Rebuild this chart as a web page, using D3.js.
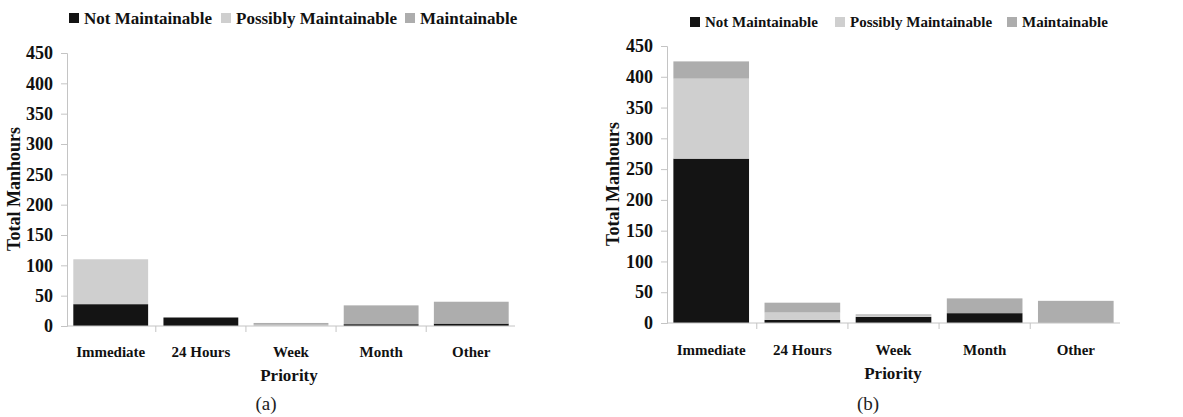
<!DOCTYPE html>
<html>
<head>
<meta charset="utf-8">
<script src="https://cdn.jsdelivr.net/npm/d3@7"></script>
<style>
  html, body { margin: 0; padding: 0; background: #ffffff; }
  svg text { font-family: "Liberation Serif", "Times New Roman", serif; }
</style>
</head>
<body>
<svg id="chart" width="1183" height="417"></svg>
<script>
// Priority categories shared by both panels
const categories = ["Immediate", "24 Hours", "Week", "Month", "Other"];
const seriesNames = ["Not Maintainable", "Possibly Maintainable", "Maintainable"];
const seriesColors = ["#141414", "#cfcfcf", "#adadad"];
const yTicks = [0, 50, 100, 150, 200, 250, 300, 350, 400, 450];

// Panel (a) total manhours per category
const notMaintainableA = [36, 14, 0, 3, 4];
const possiblyMaintainableA = [74, 0, 2, 0, 0];
const maintainableA = [0, 0, 3, 31, 36];

// Panel (b) total manhours per category
const notMaintainableB = [267, 5, 10, 16, 0];
const possiblyMaintainableB = [130, 12, 2, 0, 0];
const maintainableB = [28, 16, 2, 24, 36];

const svg = d3.select("#chart");

function drawPanel(cfg) {
  const rows = categories.map((c, i) => ({
    category: c,
    "Not Maintainable": cfg.series[0][i],
    "Possibly Maintainable": cfg.series[1][i],
    "Maintainable": cfg.series[2][i]
  }));
  const stacked = d3.stack().keys(seriesNames)(rows);

  const x = d3.scaleBand().domain(categories)
    .range([cfg.x0, cfg.x1]).paddingInner(0.17).paddingOuter(0.07);
  const y = d3.scaleLinear().domain([0, 450]).range([cfg.yBase, cfg.yTop]);

  const g = svg.append("g");

  // y axis
  const yAxis = d3.axisLeft(y).tickValues(yTicks).tickSize(6).tickPadding(8);
  const ya = g.append("g").attr("transform", `translate(${cfg.x0},0)`).call(yAxis);
  ya.select(".domain").attr("stroke", "#c4c4c4");
  ya.selectAll(".tick line").attr("stroke", "#c4c4c4");
  ya.selectAll(".tick text")
    .attr("font-size", 18).attr("font-weight", "bold").attr("fill", "#111")
    .attr("font-family", "Liberation Serif");

  // bars
  g.append("g").selectAll("g").data(stacked).join("g")
    .attr("fill", (d, i) => seriesColors[i])
    .selectAll("rect").data(d => d).join("rect")
    .attr("x", d => x(d.data.category))
    .attr("width", x.bandwidth())
    .attr("y", d => y(d[1]))
    .attr("height", d => y(d[0]) - y(d[1]));

  // x axis with ticks between categories
  const xa = g.append("g").attr("transform", `translate(0,${cfg.yBase})`);
  xa.append("line").attr("x1", cfg.x0).attr("x2", cfg.x1)
    .attr("stroke", "#c4c4c4");
  const step = x.step();
  const bounds = d3.range(1, categories.length).map(i => x(categories[i]) - step * x.paddingInner() / 2);
  xa.selectAll("line.sep").data(bounds).join("line").attr("class", "sep")
    .attr("x1", d => d).attr("x2", d => d).attr("y1", 0).attr("y2", 6)
    .attr("stroke", "#c4c4c4");
  xa.selectAll("text.cat").data(categories).join("text").attr("class", "cat")
    .attr("x", d => x(d) + x.bandwidth() / 2)
    .attr("y", cfg.catY - cfg.yBase)
    .attr("text-anchor", "middle").attr("dominant-baseline", "central")
    .attr("font-size", 15).attr("font-weight", "bold").attr("fill", "#111")
    .text(d => d);

  // axis titles
  g.append("text").attr("x", cfg.priorityX).attr("y", cfg.priorityY)
    .attr("text-anchor", "middle").attr("dominant-baseline", "central")
    .attr("font-size", 17).attr("font-weight", "bold").attr("fill", "#111")
    .text("Priority");
  g.append("text")
    .attr("transform", `translate(${cfg.yTitleX},${cfg.yTitleY}) rotate(-90)`)
    .attr("text-anchor", "middle").attr("dominant-baseline", "central")
    .attr("font-size", 18).attr("font-weight", "bold").attr("fill", "#111")
    .text("Total Manhours");

  // legend
  const lg = g.append("g");
  cfg.legendX.forEach((lx, i) => {
    lg.append("rect").attr("x", lx).attr("y", cfg.legendY - 5)
      .attr("width", 10).attr("height", 10).attr("fill", seriesColors[i]);
    lg.append("text").attr("x", lx + 15).attr("y", cfg.legendY)
      .attr("dominant-baseline", "central")
      .attr("font-size", cfg.legendFont).attr("font-weight", "bold").attr("fill", "#111")
      .text(seriesNames[i]);
  });

  // caption
  g.append("text").attr("x", cfg.captionX).attr("y", 403)
    .attr("text-anchor", "middle").attr("dominant-baseline", "central")
    .attr("font-size", 19).attr("fill", "#222")
    .text(cfg.caption);
}

drawPanel({
  series: [notMaintainableA, possiblyMaintainableA, maintainableA],
  x0: 67, x1: 515, yBase: 326, yTop: 53,
  catY: 352, priorityX: 289, priorityY: 375,
  yTitleX: 14, yTitleY: 189,
  legendX: [69, 221, 405], legendY: 18, legendFont: 17,
  captionX: 266, caption: "(a)"
});

drawPanel({
  series: [notMaintainableB, possiblyMaintainableB, maintainableB],
  x0: 667, x1: 1120, yBase: 323, yTop: 46,
  catY: 350, priorityX: 893, priorityY: 373,
  yTitleX: 613, yTitleY: 184,
  legendX: [690, 835, 1007], legendY: 22, legendFont: 15,
  captionX: 868, caption: "(b)"
});
</script>
</body>
</html>
